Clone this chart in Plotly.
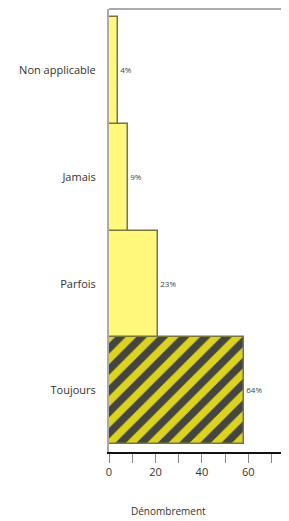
import plotly.graph_objects as go

categories = ["Toujours", "Parfois", "Jamais", "Non applicable"]
counts = [58, 21, 8, 4]
pct_labels = ["64%", "23%", "9%", "4%"]
x_tickvals = [0, 10, 20, 30, 40, 50, 60, 70]
x_ticktext = ["0", "", "20", "", "40", "", "60", ""]
x_title = "Dénombrement"

fill_colors = ["#dcd41c", "#fff87a", "#fff87a", "#fff87a"]
shapes_pat = ["/", "", "", ""]

fig = go.Figure()
fig.add_trace(go.Bar(
    y=categories,
    x=counts,
    orientation="h",
    text=pct_labels,
    textposition="outside",
    textfont=dict(size=8, color="#444444", family="Open Sans, sans-serif"),
    cliponaxis=False,
    marker=dict(
        color=fill_colors,
        line=dict(color="#77773a", width=1.5),
        pattern=dict(shape=shapes_pat, fgcolor="#706e14", fgopacity=1,
                     fillmode="overlay", size=15, solidity=0.5),
    ),
    hoverinfo="skip",
))

fig.update_layout(
    width=281, height=513,
    margin=dict(l=101, r=0, t=1, b=69, autoexpand=False),
    paper_bgcolor="white", plot_bgcolor="white",
    bargap=0,
    showlegend=False,
    font=dict(family="Open Sans, sans-serif", color="#333333", size=11),
    xaxis=dict(
        range=[0, 77.5],
        automargin=False,
        tickvals=x_tickvals, ticktext=x_ticktext,
        ticks="outside", ticklen=9, tickcolor="#888888", tickwidth=1,
        showline=True, linecolor="#111111", linewidth=1.5,
        showgrid=False, zeroline=False,
        tickfont=dict(size=11, color="#333333"),
    ),
    yaxis=dict(
        range=[-0.575, 3.575],
        automargin=False,
        showline=True, linecolor="#aaaaaa", linewidth=2,
        showgrid=False, zeroline=False,
        ticks="", ticklabelstandoff=9,
        tickfont=dict(size=11, color="#333333"),
    ),
    shapes=[dict(type="line", xref="paper", yref="paper", x0=0, x1=1, y0=1, y1=1,
                 line=dict(color="#aaaaaa", width=2))],
    annotations=[dict(text=x_title, xref="paper", yref="paper", x=0.328, y=-0.133,
                      xanchor="center", yanchor="middle", showarrow=False,
                      font=dict(size=10, color="#333333"))],
)

fig.write_html("out.html", post_script="document.body.style.overflow='hidden';")
